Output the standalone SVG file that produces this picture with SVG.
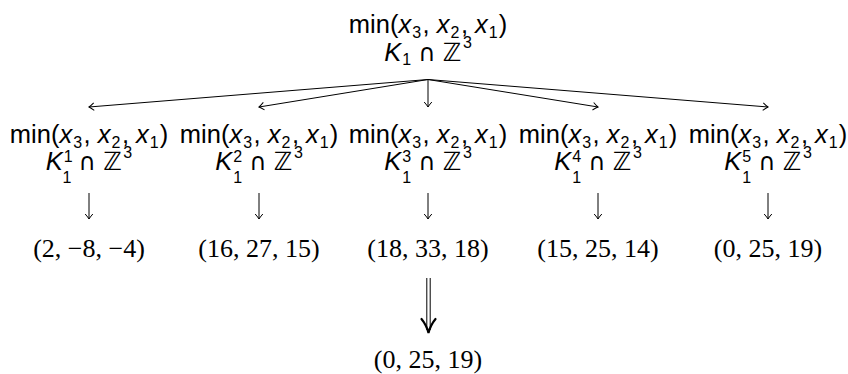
<svg xmlns="http://www.w3.org/2000/svg" width="848" height="374" viewBox="0 0 848 374">
  <style>
    .s { font-family: "Liberation Sans", "DejaVu Sans", sans-serif; font-size: 25.5px; fill: #000; }
    .it { font-style: italic; }
    .sc { font-size: 16px; font-style: normal; }
    .bb { font-family: "DejaVu Sans", sans-serif; font-size: 25px; }
    .cap { font-family: "DejaVu Sans", sans-serif; font-size: 24px; }
    .r { font-family: "Liberation Serif", "DejaVu Serif", serif; font-size: 26px; fill: #000; }
    .edge { stroke: #000; stroke-width: 1; fill: none; marker-end: url(#to); }
    .dbl { stroke: #000; stroke-width: 1; fill: none; }
  </style>
  <defs>
    <marker id="to" markerUnits="userSpaceOnUse" orient="auto" refX="0" refY="0" markerWidth="12" markerHeight="12" viewBox="-7 -6 8 12" overflow="visible">
      <path d="M-5,-3.8 Q-1.5,-0.8 0,0 Q-1.5,0.8 -5,3.8" stroke="#000" stroke-width="1" fill="none"/>
    </marker>
  </defs>

  <!-- root node -->
  <g id="root">
    <text class="s" x="428" y="33" text-anchor="middle">min(<tspan class="it">x</tspan><tspan class="sc" dx="1" dy="5">3</tspan><tspan dx="1.5" dy="-5">, </tspan><tspan class="it">x</tspan><tspan class="sc" dx="1" dy="5">2</tspan><tspan dx="1.5" dy="-5">, </tspan><tspan class="it">x</tspan><tspan class="sc" dx="1" dy="5">1</tspan><tspan dx="1" dy="-5">)</tspan></text>
    <text class="s" x="428" y="61" text-anchor="middle"><tspan class="it">K</tspan><tspan class="sc" dx="1" dy="4">1</tspan><tspan dy="-4"> </tspan><tspan class="cap">∩</tspan><tspan> </tspan><tspan class="bb">ℤ</tspan><tspan class="sc" dx="1.5" dy="-13">3</tspan></text>
  </g>

  <!-- level 1 nodes -->
  <g id="k1">
    <text class="s" x="89" y="143" text-anchor="middle">min(<tspan class="it">x</tspan><tspan class="sc" dx="1" dy="5">3</tspan><tspan dx="1.5" dy="-5">, </tspan><tspan class="it">x</tspan><tspan class="sc" dx="1" dy="5">2</tspan><tspan dx="1.5" dy="-5">, </tspan><tspan class="it">x</tspan><tspan class="sc" dx="1" dy="5">1</tspan><tspan dx="1" dy="-5">)</tspan></text>
    <text class="s" x="89" y="170" text-anchor="middle"><tspan class="it">K</tspan><tspan class="sc" dx="1" dy="-8">1</tspan><tspan class="sc" dx="-8.9" dy="21">1</tspan><tspan dy="-13"> </tspan><tspan class="cap">∩</tspan><tspan> </tspan><tspan class="bb">ℤ</tspan><tspan class="sc" dx="1.5" dy="-12">3</tspan></text>
  </g>
  <g id="k2">
    <text class="s" x="259" y="143" text-anchor="middle">min(<tspan class="it">x</tspan><tspan class="sc" dx="1" dy="5">3</tspan><tspan dx="1.5" dy="-5">, </tspan><tspan class="it">x</tspan><tspan class="sc" dx="1" dy="5">2</tspan><tspan dx="1.5" dy="-5">, </tspan><tspan class="it">x</tspan><tspan class="sc" dx="1" dy="5">1</tspan><tspan dx="1" dy="-5">)</tspan></text>
    <text class="s" x="259" y="170" text-anchor="middle"><tspan class="it">K</tspan><tspan class="sc" dx="1" dy="-8">2</tspan><tspan class="sc" dx="-8.9" dy="21">1</tspan><tspan dy="-13"> </tspan><tspan class="cap">∩</tspan><tspan> </tspan><tspan class="bb">ℤ</tspan><tspan class="sc" dx="1.5" dy="-12">3</tspan></text>
  </g>
  <g id="k3">
    <text class="s" x="428" y="143" text-anchor="middle">min(<tspan class="it">x</tspan><tspan class="sc" dx="1" dy="5">3</tspan><tspan dx="1.5" dy="-5">, </tspan><tspan class="it">x</tspan><tspan class="sc" dx="1" dy="5">2</tspan><tspan dx="1.5" dy="-5">, </tspan><tspan class="it">x</tspan><tspan class="sc" dx="1" dy="5">1</tspan><tspan dx="1" dy="-5">)</tspan></text>
    <text class="s" x="428" y="170" text-anchor="middle"><tspan class="it">K</tspan><tspan class="sc" dx="1" dy="-8">3</tspan><tspan class="sc" dx="-8.9" dy="21">1</tspan><tspan dy="-13"> </tspan><tspan class="cap">∩</tspan><tspan> </tspan><tspan class="bb">ℤ</tspan><tspan class="sc" dx="1.5" dy="-12">3</tspan></text>
  </g>
  <g id="k4">
    <text class="s" x="598" y="143" text-anchor="middle">min(<tspan class="it">x</tspan><tspan class="sc" dx="1" dy="5">3</tspan><tspan dx="1.5" dy="-5">, </tspan><tspan class="it">x</tspan><tspan class="sc" dx="1" dy="5">2</tspan><tspan dx="1.5" dy="-5">, </tspan><tspan class="it">x</tspan><tspan class="sc" dx="1" dy="5">1</tspan><tspan dx="1" dy="-5">)</tspan></text>
    <text class="s" x="598" y="170" text-anchor="middle"><tspan class="it">K</tspan><tspan class="sc" dx="1" dy="-8">4</tspan><tspan class="sc" dx="-8.9" dy="21">1</tspan><tspan dy="-13"> </tspan><tspan class="cap">∩</tspan><tspan> </tspan><tspan class="bb">ℤ</tspan><tspan class="sc" dx="1.5" dy="-12">3</tspan></text>
  </g>
  <g id="k5">
    <text class="s" x="768" y="143" text-anchor="middle">min(<tspan class="it">x</tspan><tspan class="sc" dx="1" dy="5">3</tspan><tspan dx="1.5" dy="-5">, </tspan><tspan class="it">x</tspan><tspan class="sc" dx="1" dy="5">2</tspan><tspan dx="1.5" dy="-5">, </tspan><tspan class="it">x</tspan><tspan class="sc" dx="1" dy="5">1</tspan><tspan dx="1" dy="-5">)</tspan></text>
    <text class="s" x="768" y="170" text-anchor="middle"><tspan class="it">K</tspan><tspan class="sc" dx="1" dy="-8">5</tspan><tspan class="sc" dx="-8.9" dy="21">1</tspan><tspan dy="-13"> </tspan><tspan class="cap">∩</tspan><tspan> </tspan><tspan class="bb">ℤ</tspan><tspan class="sc" dx="1.5" dy="-12">3</tspan></text>
  </g>

  <!-- leaf values -->
  <g id="v1"><text class="r" x="89" y="257" text-anchor="middle">(2, −8, −4)</text></g>
  <g id="v2"><text class="r" x="259" y="257" text-anchor="middle">(16, 27, 15)</text></g>
  <g id="v3"><text class="r" x="428" y="257" text-anchor="middle">(18, 33, 18)</text></g>
  <g id="v4"><text class="r" x="598" y="257" text-anchor="middle">(15, 25, 14)</text></g>
  <g id="v5"><text class="r" x="768" y="257" text-anchor="middle">(0, 25, 19)</text></g>

  <!-- result -->
  <g id="result"><text class="r" x="428" y="368" text-anchor="middle">(0, 25, 19)</text></g>

  <!-- connectors -->
  <g id="connectors">
    <line class="edge" x1="428" y1="79.5" x2="89" y2="107"/>
    <line class="edge" x1="428" y1="79.5" x2="259" y2="107"/>
    <line class="edge" x1="428" y1="79.5" x2="428" y2="107"/>
    <line class="edge" x1="428" y1="79.5" x2="598" y2="107"/>
    <line class="edge" x1="428" y1="79.5" x2="768" y2="107"/>

    <line class="edge" x1="89" y1="193" x2="89" y2="219"/>
    <line class="edge" x1="259" y1="193" x2="259" y2="219"/>
    <line class="edge" x1="428" y1="193" x2="428" y2="219"/>
    <line class="edge" x1="598" y1="193" x2="598" y2="219"/>
    <line class="edge" x1="768" y1="193" x2="768" y2="219"/>

    <line class="dbl" x1="426.8" y1="278" x2="426.8" y2="330"/>
    <line class="dbl" x1="430.2" y1="278" x2="430.2" y2="330"/>
    <path d="M421.5,319 Q426.5,325 428.5,333 Q430.5,325 435.5,319" stroke="#000" stroke-width="2.2" fill="none" stroke-linecap="round"/>
  </g>
</svg>
